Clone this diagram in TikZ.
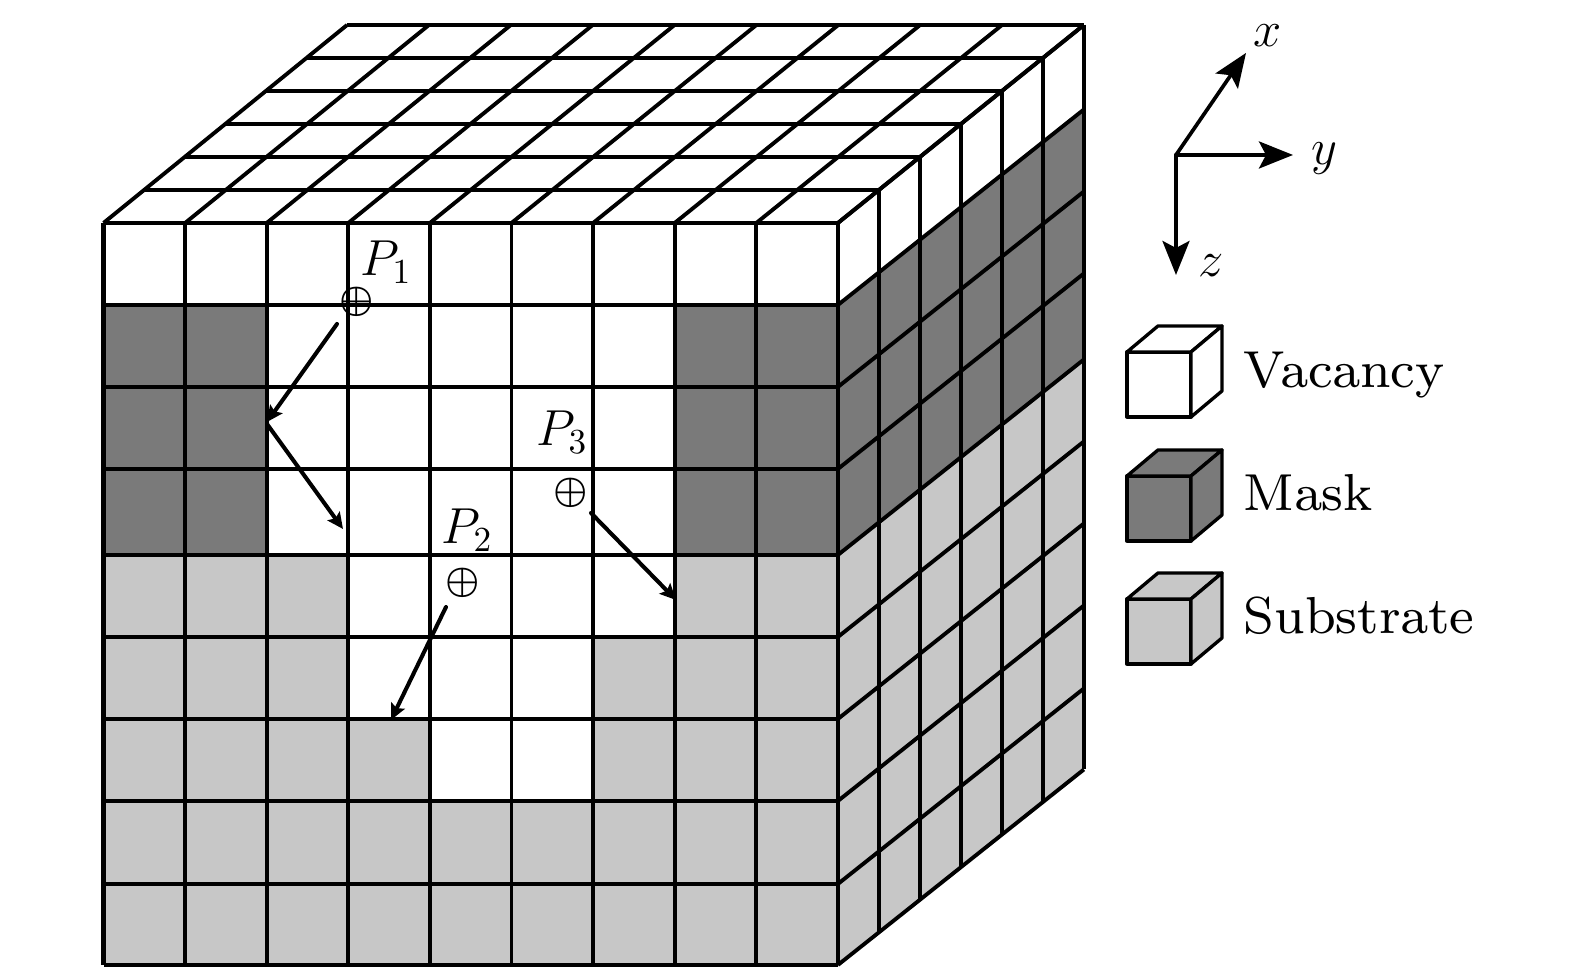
\documentclass[tikz,border=0pt]{standalone}
\usetikzlibrary{arrows.meta,calc}
\usepackage{tkz-euclide}
\definecolor{MaskClr}{gray}{0.48}
\definecolor{SubstrateClr}{gray}{0.78}
\font\CubeFont=cmr8 at 14.8pt
\tikzset{
  GridLine/.style={line width=1.1pt,color=black},
  MoveArrow/.style={line width=1.15pt,-{Stealth[length=.16cm,width=.15cm,inset=.03cm]}},
  AxisArrow/.style={line width=1.05pt,-{Stealth[length=.34cm,width=.27cm,inset=.07cm]}},
  PosLabel/.style={anchor=base west,inner sep=0pt,font=\fontsize{14}{16}\selectfont},
  AxisLabel/.style={inner sep=0pt,font=\fontsize{14.5}{16}\selectfont},
  CubeLabel/.style={anchor=base west,inner sep=0pt,font=\CubeFont},
  IonMark/.style={inner sep=0pt,font=\fontsize{11}{13}\selectfont\boldmath}
}
% legend cube: x, y of the lower left corner, colour
\newcommand{\LegendCube}[3]{
  \filldraw[line width=.95pt,line join=round,fill=#3] (#1,#2) rectangle ++(.64,.65);
  \filldraw[line width=.95pt,line join=round,fill=#3] (#1,#2+.65) -- ++(.31,.26) -- ++(.64,0) -- ++(-.31,-.26) -- cycle;
  \filldraw[line width=.95pt,line join=round,fill=#3] (#1+.64,#2) -- ++(.31,.26) -- ++(0,.65) -- ++(-.31,-.26) -- cycle;
}

\begin{document}
\begin{tikzpicture}
\useasboundingbox (0,0) rectangle (15.75,9.74);

\foreach \i/\y in {0/7.51,1/6.69,2/5.87,3/5.05,4/4.19,5/3.37,6/2.55,7/1.73,8/.90,9/.09}
  \coordinate (R\i) at (0,\y);
\foreach \j in {0,...,9}
  \coordinate (C\j) at ({1.035+.816*\j},0);
\foreach \i in {0,...,9}{
  \coordinate (F\i) at (C9|-R\i);
  \coordinate (B\i) at ($(F\i)+(2.46,1.955)$);
}
\coordinate (B0) at ($(F0)+(2.46,1.98)$);

% front and side colours
\fill[MaskClr] (C0|-R1) rectangle (C2|-R4);
\fill[MaskClr] (C7|-R1) rectangle (C9|-R4);
\fill[MaskClr] (F1)--(B1)--(B4)--(F4)--cycle;
\fill[SubstrateClr] (C0|-R4)--(C3|-R4)--(C3|-R6)--(C4|-R6)--(C4|-R7)--(C6|-R7)--(C6|-R5)--(C7|-R5)--(C7|-R4)--(C9|-R4)--(C9|-R9)--(C0|-R9)--cycle;
\fill[SubstrateClr] (F4)--(B4)--(B9)--(F9)--cycle;

% grid
\foreach \i in {0,...,9}{
  \draw[GridLine] (C0|-R\i) -- (F\i);
  \draw[GridLine] (F\i) -- (B\i);
  \draw[GridLine] (C\i|-R0) -- (C\i|-R9);
  \draw[GridLine] (C\i|-R0) -- ++({2.436+.00267*\i},1.98);
}
\foreach \d in {1,...,6}{
  \draw[GridLine] ($(F0)+\d*(.41,.33)$) -- ($(F9)+\d*(.41,.326)$);
  \draw[GridLine] ($(C0|-R0)+\d*(.406,.33)$) -- ($(F0)+\d*(.41,.33)$);
}
\draw[line width=1.6pt] (C0|-R0) -- (C0|-R9);

% ion paths
\tkzDefPoints{3.37/6.50/Sa,2.67/5.52/Ta,2.67/5.50/Sb,3.43/4.45/Tb,5.91/4.61/Sc,6.76/3.74/Tc,4.46/3.67/Sd,3.91/2.54/Td}
\tkzDrawSegments[MoveArrow](Sa,Ta Sb,Tb Sc,Tc Sd,Td)

\node[IonMark] (IonA) at (3.57,6.72) {$\oplus$};
\node[IonMark] (IonB) at (4.63,3.91) {$\oplus$};
\node[IonMark] (IonC) at (5.71,4.81) {$\oplus$};
\node[PosLabel] (LabA) at (3.60,6.98) {$P_1$};
\node[PosLabel] (LabB) at (4.41,4.30) {$P_2$};
\node[PosLabel] (LabC) at (5.36,5.28) {$P_3$};

% axes
\tkzDefPoints{11.76/8.19/O,12.46/9.21/Ax,12.93/8.19/Ay,11.76/6.99/Az}
\tkzDrawSegments[AxisArrow](O,Ax O,Ay O,Az)
\node[AxisLabel] (LabX) at (12.68,9.38) {$x$};
\node[AxisLabel] (LabY) at (13.24,8.15) {$y$};
\node[AxisLabel] (LabZ) at (12.11,7.08) {$z$};

% legend
\LegendCube{11.27}{5.57}{white}
\LegendCube{11.27}{4.33}{MaskClr}
\LegendCube{11.27}{3.10}{SubstrateClr}
\node[CubeLabel] (LabVac) at (12.43,5.86) {Vacancy};
\node[CubeLabel] (LabMask) at (12.43,4.63) {Mask};
\node[CubeLabel] (LabSub) at (12.43,3.40) {Substrate};

\end{tikzpicture}
\end{document}
